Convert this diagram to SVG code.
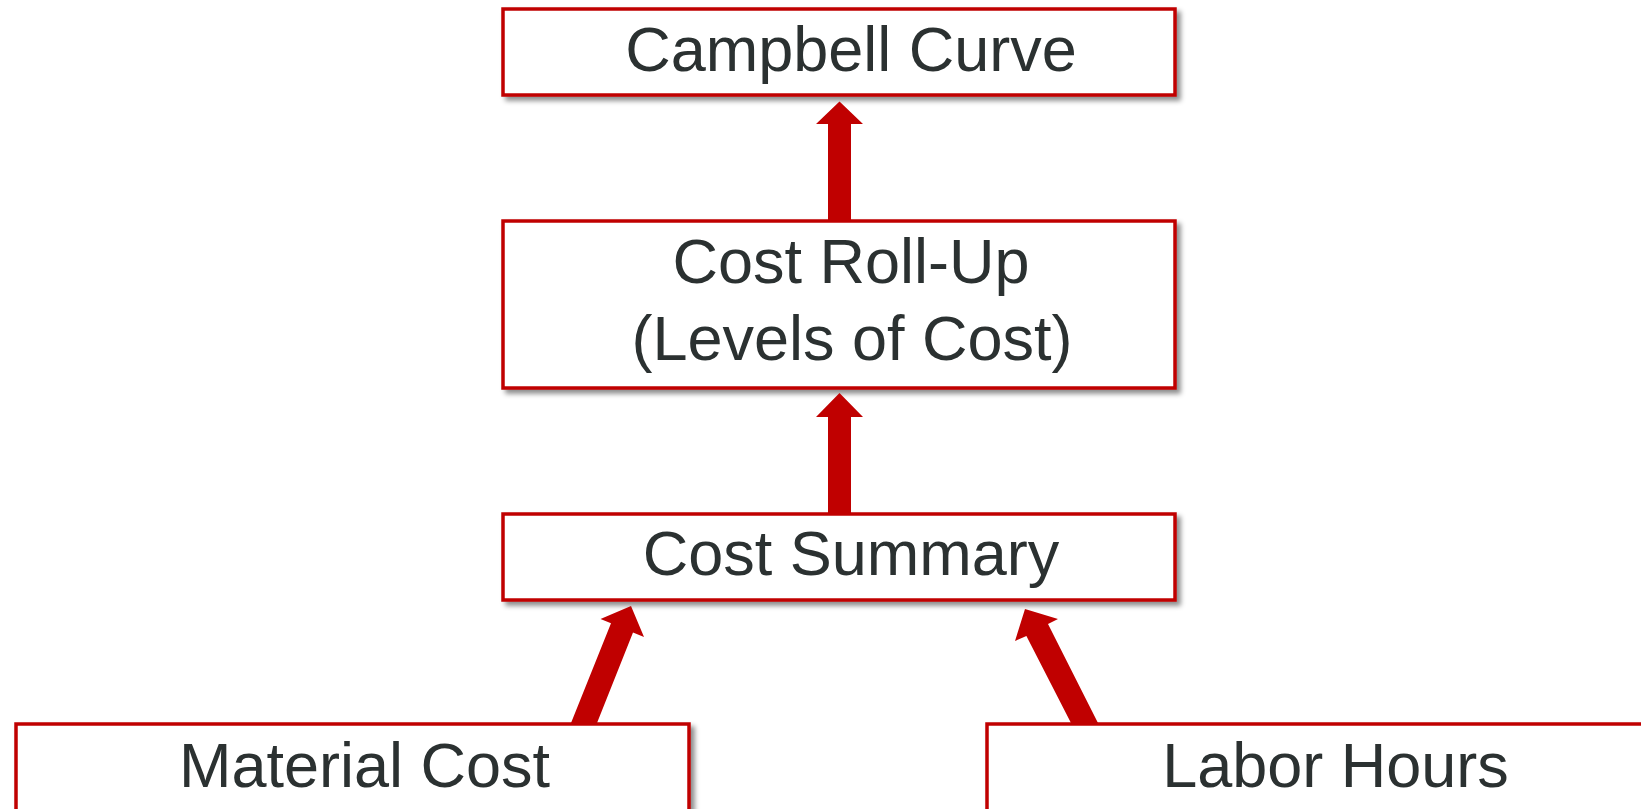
<svg xmlns="http://www.w3.org/2000/svg" width="1641" height="809" viewBox="0 0 1641 809">
<defs>
<filter id="sh" x="-5%" y="-20%" width="115%" height="150%">
<feDropShadow dx="4" dy="4" stdDeviation="2.5" flood-color="#000" flood-opacity="0.45"/>
</filter>
<style>
.box{fill:#fff;stroke:#C00000;stroke-width:3.5;filter:url(#sh)}
.lbl{font-family:"Liberation Sans",Arial,sans-serif;font-size:63px;fill:#2b3131;text-anchor:middle}
.arr{fill:#C00000}
</style>
</defs>
<rect width="1641" height="809" fill="#fff"/>
<g id="campbell">
<rect class="box" x="503" y="9" width="672" height="86"/>
<text class="lbl" x="851" y="71">Campbell Curve</text>
</g>
<g id="rollup">
<rect class="box" x="503" y="221" width="672" height="167"/>
<text class="lbl" x="851" y="283">Cost Roll-Up</text>
<text class="lbl" x="852" y="360">(Levels of Cost)</text>
</g>
<g id="summary">
<rect class="box" x="503" y="514" width="672" height="86"/>
<text class="lbl" x="851" y="575">Cost Summary</text>
</g>
<g id="material">
<rect class="box" x="16" y="724" width="673" height="110"/>
<text class="lbl" x="364.5" y="787">Material Cost</text>
</g>
<g id="labor">
<rect class="box" x="987" y="724" width="673" height="110"/>
<text class="lbl" x="1335.5" y="787">Labor Hours</text>
</g>
<g id="connectors">
<polygon class="arr" points="839.5,101.5 863,124 851,124 851,221 828,221 828,124 816,124"/>
<polygon class="arr" points="839.5,393 863,417 851,417 851,514 828,514 828,417 816,417"/>
<polygon class="arr" points="631,606 644,637 633,632.5 597,723 571,723 611,623.3 600.5,619"/>
<polygon class="arr" points="1025,609 1058,619 1048,624 1098,723 1071,723 1026.4,636 1015,641"/>
</g>
</svg>
